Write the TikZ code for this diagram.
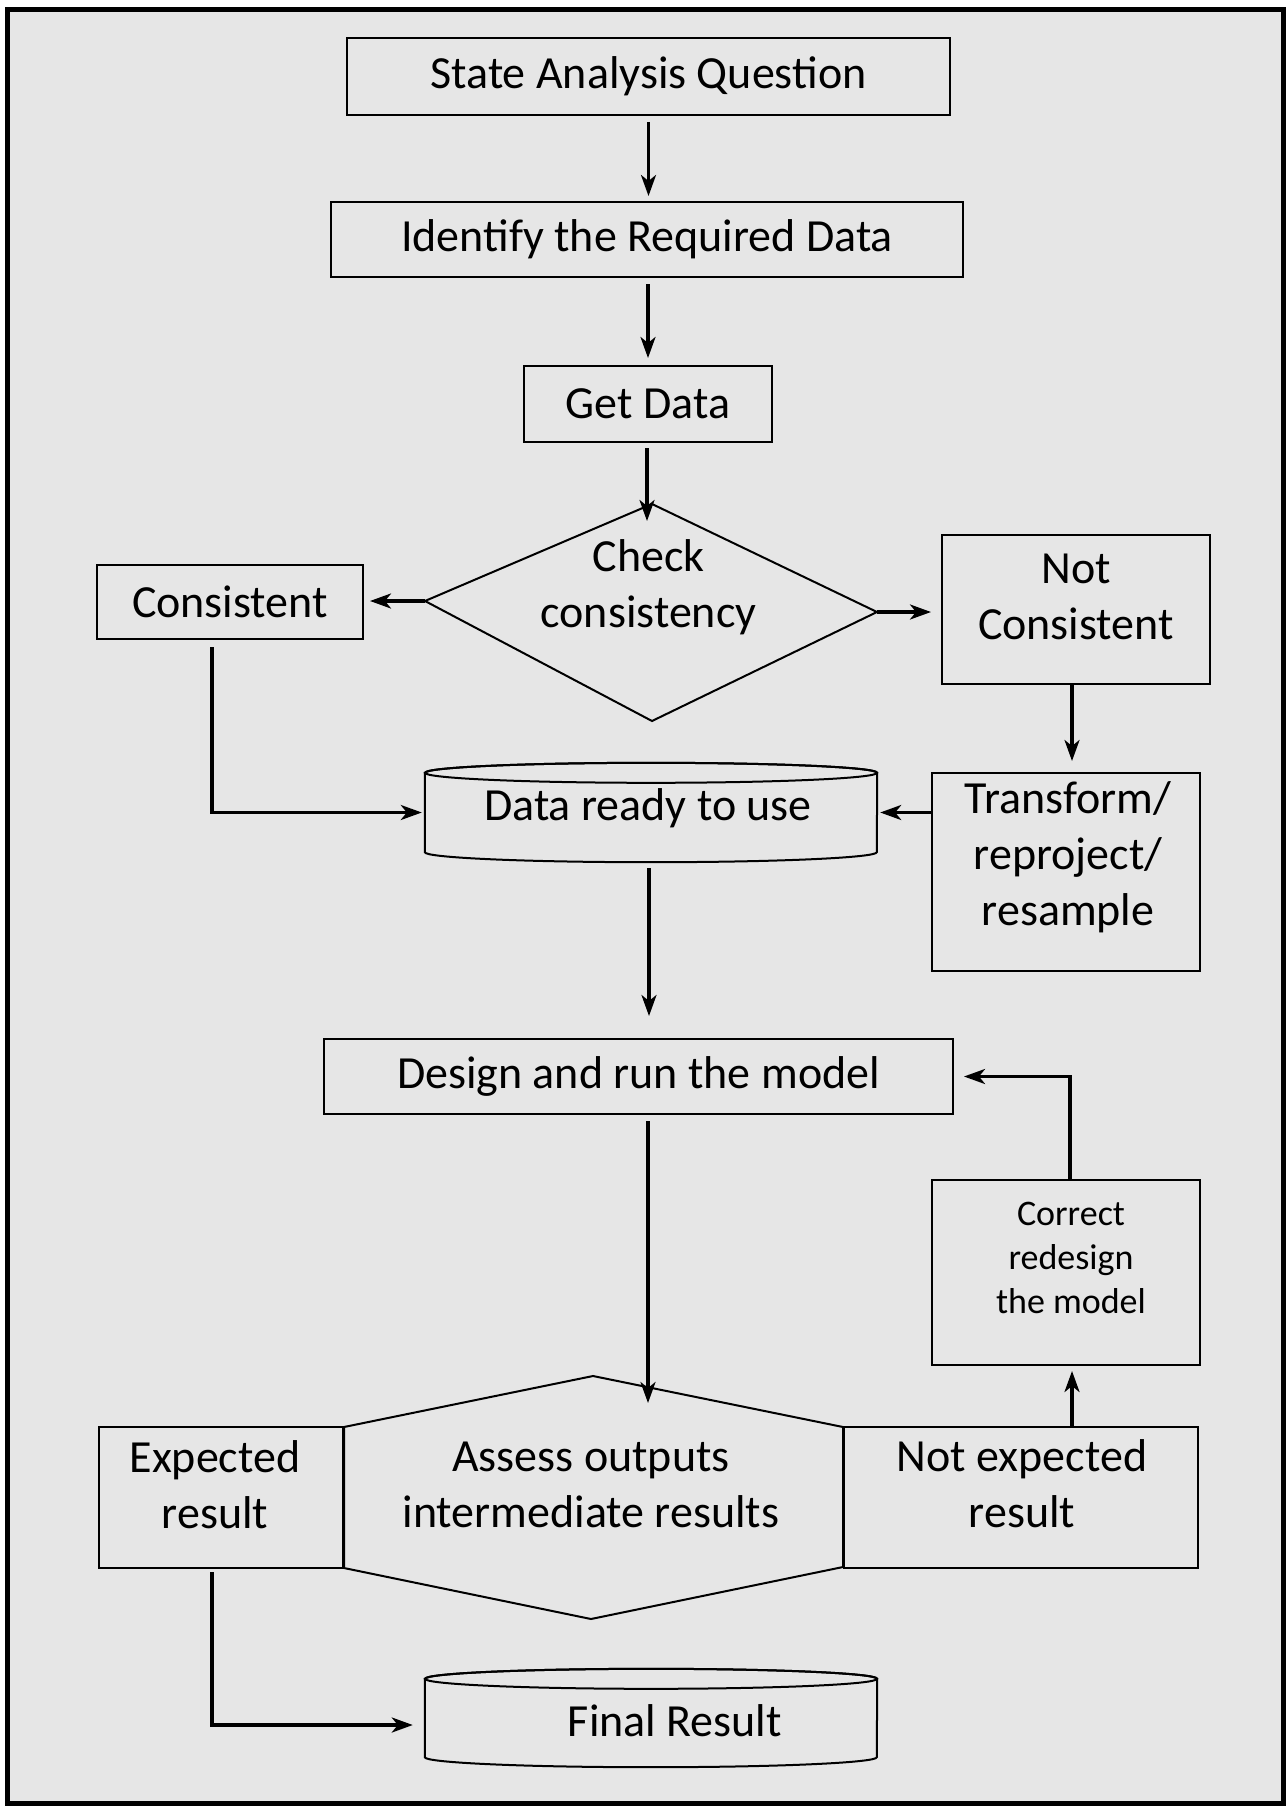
\documentclass[tikz,border=0pt]{standalone}
\usepackage{fontspec}
\setmainfont{Carlito}
\usetikzlibrary{arrows.meta}
\definecolor{bg}{RGB}{230,230,230}
\begin{document}
\begin{tikzpicture}[x=1pt,y=1pt,
  every node/.style={font=\fontsize{46}{56}\selectfont},
  box/.style={draw, line width=2pt, fill=bg, inner sep=0pt, rectangle, align=center},
  txt/.style={align=center, inner sep=0pt},
  small/.style={font=\fontsize{36}{44}\selectfont},
  shp/.style={draw, line width=2pt, fill=bg, line join=miter},
  arr/.style={line width=3.2pt, -{Stealth[length=21pt,width=15pt,inset=6pt]}}]
\useasboundingbox (0,0) rectangle (1287,-1806);
\fill[white] (0,0) rectangle (1287,-1806);
\draw[line width=5pt, fill=bg] (7,-10) rectangle (1283,-1803);

% rectangles
\node[box, minimum width=603pt, minimum height=77pt] (saq) at (648.5,-76.5) {State Analysis Question};
\node[box, minimum width=632pt, minimum height=75pt] (ird) at (647,-239.5) {Identify the Required Data};
\node[box, minimum width=248pt, minimum height=76pt] (gd) at (648,-404) {Get Data};
\node[box, minimum width=266pt, minimum height=74pt] (cons) at (230,-602) {Consistent};
\node[box, minimum width=268pt, minimum height=149pt] (nc) at (1076,-609.5) {};
\node[txt] (ncT) at (1076,-596.5) {Not\\Consistent};
\node[box, minimum width=268pt, minimum height=198pt] (tr) at (1066,-872) {};
\node[txt] (trT) at (1068,-857) {Transform/\\reproject/\\resample};
\node[box, minimum width=629pt, minimum height=75pt] (drm) at (638.5,-1076.5) {Design and run the model};
\node[box, minimum width=268pt, minimum height=185pt] (crm) at (1066,-1272.5) {};
\node[txt, small] (crmT) at (1071,-1258) {Correct\\redesign\\the model};

% diamond
\coordinate (dT) at (652,-504);
\coordinate (dR) at (877,-612);
\coordinate (dB) at (652,-721);
\coordinate (dL) at (425,-601);
\draw[shp] (dT) -- (dR) -- (dB) -- (dL) -- cycle;
\node[txt] (chkT) at (648.5,-587) {Check\\consistency};

% cylinders
\node[inner sep=0pt, minimum width=452pt, minimum height=79pt] (dru) at (651,-812.5) {};
\draw[shp] (dru.north west) -- (dru.south west) arc[start angle=180, end angle=360, x radius=226pt, y radius=10pt]
  -- (dru.north east) arc[start angle=0, end angle=180, x radius=226pt, y radius=10pt] -- cycle;
\draw[line width=2pt] (dru.north) ellipse[x radius=226pt, y radius=10pt];
\node[txt] (druT) at (648,-808) {Data ready to use};

\node[inner sep=0pt, minimum width=452pt, minimum height=78pt] (fin) at (651,-1718) {};
\draw[shp] (fin.north west) -- (fin.south west) arc[start angle=180, end angle=360, x radius=226pt, y radius=10pt]
  -- (fin.north east) arc[start angle=0, end angle=180, x radius=226pt, y radius=10pt] -- cycle;
\draw[line width=2pt] (fin.north) ellipse[x radius=226pt, y radius=10pt];
\node[txt] (finT) at (675,-1721) {Final Result};

% hexagon
\coordinate (hT) at (593,-1376);
\coordinate (hUR) at (843,-1427);
\coordinate (hLR) at (843,-1567);
\coordinate (hB) at (591,-1619);
\coordinate (hLL) at (344,-1568);
\coordinate (hUL) at (344,-1427);
\draw[shp] (hT) -- (hUR) -- (hLR) -- (hB) -- (hLL) -- (hUL) -- cycle;
\node[txt] (asT) at (591,-1485) {Assess outputs\\intermediate results};

\node[box, minimum width=244pt, minimum height=141pt] (exp) at (221,-1497.5) {};
\node[txt] (expT) at (215,-1485) {Expected\\result};
\node[box, minimum width=354pt, minimum height=141pt] (nexp) at (1021,-1497.5) {};
\node[txt] (nexpT) at (1022,-1484) {Not expected\\result};

% connectors
\coordinate (chkin) at (647,-521);
\coordinate (hexin) at (648,-1403);
\draw[arr, shorten <=6pt, shorten >=5pt] (saq.south) -- (saq.south |- ird.north);
\draw[arr, shorten <=6pt, shorten >=7pt] (gd.north |- ird.south) -- (gd.north);
\draw[arr, shorten <=5pt] (gd.south -| chkin) -- (chkin);
\draw[arr, shorten >=6pt] (dL) -- (dL -| cons.east);
\draw[arr, shorten >=10pt] (dR) -- (dR -| nc.west);
\draw[arr, shorten <=7pt, shorten >=3pt] ([xshift=-18pt]cons.south) |- (dru.west);
\draw[arr, shorten >=11pt] ([xshift=-4pt]nc.south) -- ([xshift=-4pt]nc.south |- tr.north);
\draw[arr, shorten >=3pt] (dru.east -| tr.west) -- (dru.east);
\draw[arr, shorten <=16pt, shorten >=22pt] ([xshift=-2pt]dru.south) -- ([xshift=-2pt]dru.south |- drm.north);
\draw[arr, shorten <=6pt] (drm.south -| hexin) -- (hexin);
\draw[arr, shorten >=5pt] ([xshift=6pt]crm.south |- nexp.north) -- ([xshift=6pt]crm.south);
\draw[arr, shorten >=10pt] ([xshift=4pt]crm.north) |- (drm.east);
\draw[arr, shorten <=3pt, shorten >=12pt] ([xshift=-9pt]exp.south) |- ([yshift=-7pt]fin.west);
\end{tikzpicture}
\end{document}
